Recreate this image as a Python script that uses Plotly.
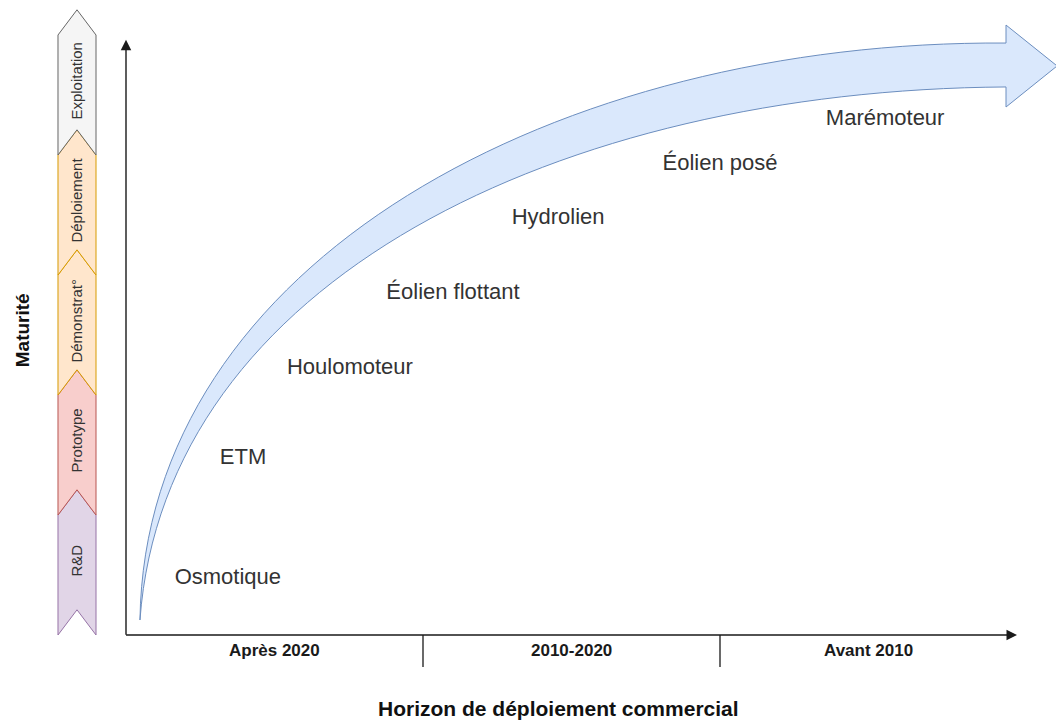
import plotly.graph_objects as go

# Maturity stages (bottom to top) for the chevron column
stages = ["R&D", "Prototype", "Démonstrat°", "Déploiement", "Exploitation"]
stage_fill = ["#e1d5e7", "#f8cecc", "#ffe6cc", "#ffe6cc", "#f5f5f5"]
stage_line = ["#9673a6", "#b85450", "#d79b00", "#d79b00", "#666666"]

# Commercial deployment horizons along the x axis
horizons = ["Après 2020", "2010-2020", "Avant 2010"]

# Technologies: x = horizon position, y = maturity level
technologies = ["Osmotique", "ETM", "Houlomoteur", "Éolien flottant",
                "Hydrolien", "Éolien posé", "Marémoteur"]
tech_x = [0.343, 0.394, 0.754, 1.101, 1.455, 2.0, 2.556]
tech_y = [0.475, 1.475, 2.217, 2.842, 3.467, 3.917, 4.292]

# Curved maturity arrow (cubic Bezier control points, same units)
upper_x = [0.047, 0.064, 1.461, 2.963]
upper_y = [0.125, 3.125, 4.958, 4.933]
lower_x = [0.047, 0.131, 1.461, 2.963]
lower_y = [0.125, 2.958, 4.542, 4.567]
head_x = [2.963, 3.135, 2.963]
head_y = [5.083, 4.742, 4.40]

FONT = "Arial, Liberation Sans, sans-serif"
TEXT = "#333333"

fig = go.Figure()

fig.add_trace(go.Scatter(
    x=tech_x, y=tech_y, mode="text", text=technologies,
    textfont=dict(family=FONT, size=22, color=TEXT),
    hoverinfo="skip", showlegend=False,
))

shapes = []

# chevron column
col_l, col_c, col_r, notch = -0.229, -0.165, -0.101, 0.21
for i, (fill, line) in enumerate(zip(stage_fill, stage_line)):
    path = (f"M {col_l},{i} L {col_c},{i + notch} L {col_r},{i} "
            f"L {col_r},{i + 1} L {col_c},{i + 1 + notch} L {col_l},{i + 1} Z")
    shapes.append(dict(type="path", path=path, xref="x", yref="y",
                       fillcolor=fill, line=dict(color=line, width=1), layer="below"))

# curved arrow band
def pt(x, y):
    return f"{x},{y}"

arrow_path = (
    f"M {pt(upper_x[0], upper_y[0])} "
    f"C {pt(upper_x[1], upper_y[1])} {pt(upper_x[2], upper_y[2])} {pt(upper_x[3], upper_y[3])} "
    f"L {pt(head_x[0], head_y[0])} L {pt(head_x[1], head_y[1])} L {pt(head_x[2], head_y[2])} "
    f"L {pt(lower_x[3], lower_y[3])} "
    f"C {pt(lower_x[2], lower_y[2])} {pt(lower_x[1], lower_y[1])} {pt(lower_x[0], lower_y[0])} Z"
)
shapes.append(dict(type="path", path=arrow_path, xref="x", yref="y",
                   fillcolor="#dae8fc", line=dict(color="#6c8ebf", width=1), layer="below"))

# separators between horizons
for k in range(1, len(horizons)):
    shapes.append(dict(type="line", xref="x", yref="y", x0=k, x1=k, y0=0, y1=-0.267,
                       line=dict(color="#1a1a1a", width=1.3)))

annotations = []

# axes drawn as arrows
annotations.append(dict(x=0, y=4.96, ax=0, ay=-0.01, xref="x", yref="y", axref="x", ayref="y",
                        text="", showarrow=True, arrowhead=2, arrowsize=1.5,
                        arrowwidth=1.4, arrowcolor="#1a1a1a", standoff=0))
annotations.append(dict(x=3.0, y=0, ax=-0.005, ay=0, xref="x", yref="y", axref="x", ayref="y",
                        text="", showarrow=True, arrowhead=2, arrowsize=1.5,
                        arrowwidth=1.4, arrowcolor="#1a1a1a", standoff=0))

for k, label in enumerate(horizons):
    annotations.append(dict(x=k + 0.5, y=-0.133, xref="x", yref="y", showarrow=False,
                            text=f"<b>{label}</b>",
                            font=dict(family=FONT, size=17, color="#1a1a1a")))

for i, label in enumerate(stages):
    annotations.append(dict(x=col_c, y=i + 0.62, xref="x", yref="y", showarrow=False,
                            text=label, textangle=-90,
                            font=dict(family=FONT, size=15, color=TEXT)))

annotations.append(dict(x=-0.350, y=2.54, xref="x", yref="y", showarrow=False,
                        text="<b>Maturité</b>", textangle=-90,
                        font=dict(family=FONT, size=19, color="#111111")))
annotations.append(dict(x=1.457, y=-0.615, xref="x", yref="y", showarrow=False,
                        text="<b>Horizon de déploiement commercial</b>",
                        font=dict(family=FONT, size=21, color="#111111")))

fig.update_layout(
    width=1056, height=723,
    margin=dict(l=0, r=0, t=0, b=0),
    paper_bgcolor="white", plot_bgcolor="white",
    xaxis=dict(range=[-126 / 297, 930 / 297], visible=False, fixedrange=True),
    yaxis=dict(range=[-88 / 120, 635 / 120], visible=False, fixedrange=True),
    shapes=shapes,
    annotations=annotations,
    showlegend=False,
)

# drop the default page margin so the figure fills the window exactly
fig.write_html("out.html", config={"displayModeBar": False},
               post_script="document.body.style.margin='0';"
               "document.body.style.overflow='hidden';")
